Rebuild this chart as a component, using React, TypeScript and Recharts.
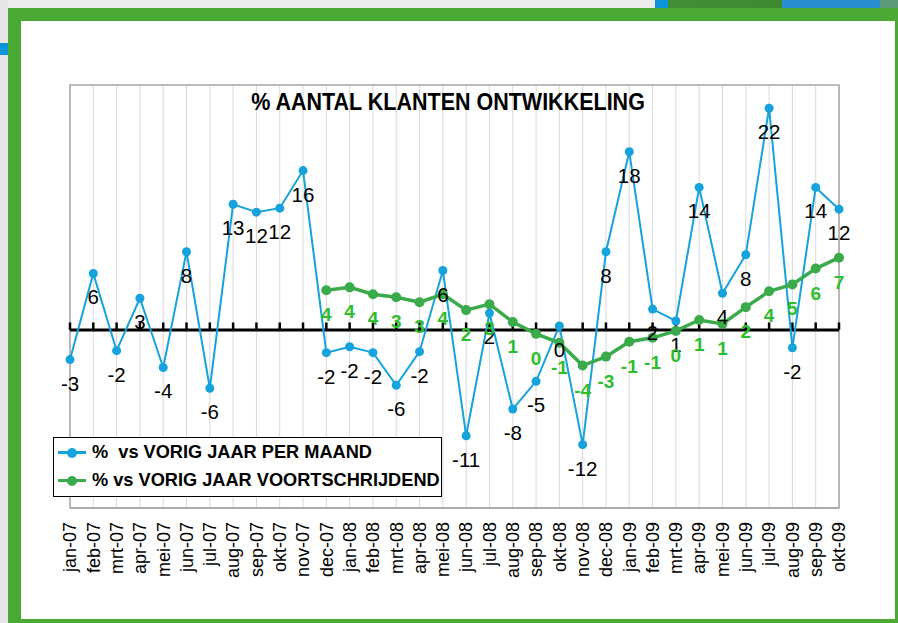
import React from 'react';
import {
    LineChart,
    Line,
    XAxis,
    YAxis,
    CartesianGrid,
    ReferenceLine,
    ReferenceArea,
    LabelList
} from 'recharts';

// months on the category axis
const MONTHS = [
    'jan-07', 'feb-07', 'mrt-07', 'apr-07', 'mei-07', 'jun-07', 'jul-07', 'aug-07', 'sep-07', 'okt-07', 'nov-07', 'dec-07',
    'jan-08', 'feb-08', 'mrt-08', 'apr-08', 'mei-08', 'jun-08', 'jul-08', 'aug-08', 'sep-08', 'okt-08', 'nov-08', 'dec-08',
    'jan-09', 'feb-09', 'mrt-09', 'apr-09', 'mei-09', 'jun-09', 'jul-09', 'aug-09', 'sep-09', 'okt-09',
];

// % vs vorig jaar per maand
const PER_MAAND = [
    -3.0, 5.7, -2.1, 3.2, -3.8, 7.9, -5.9, 12.7, 11.9, 12.3, 16.1, -2.3,
    -1.7, -2.3, -5.6, -2.2, 6.0, -10.7, 1.7, -8.0, -5.2, 0.4, -11.6, 7.9,
    18.0, 2.1, 0.9, 14.4, 3.7, 7.6, 22.4, -1.8, 14.4, 12.2,
];

// % vs vorig jaar voortschrijdend (starts dec-07)
const VOORTSCHRIJDEND = [
    null, null, null, null, null, null, null, null, null, null, null, 4.0,
    4.3, 3.6, 3.3, 2.8, 3.6, 2.0, 2.6, 0.8, -0.4, -1.3, -3.6, -2.7,
    -1.2, -0.8, -0.1, 1.0, 0.6, 2.3, 3.9, 4.6, 6.2, 7.3,
];

const Y_DOMAIN = [-18, 24.75];

const BLUE = '#16a2dc';
const GREEN = '#3aaa4a';
const GREEN_LABEL = '#2ebd2e';
const FRAME = '#4aaa34';
const FONT = '"Liberation Sans", Arial, sans-serif';

const data = MONTHS.map((m, i) => ({
    month: m,
    maand: PER_MAAND[i],
    voort: VOORTSCHRIJDEND[i],
}));

const XTick = ({ x, y, payload }: any) => (
    <text
        transform={`translate(${x},${y + 14}) rotate(-90)`}
        textAnchor="end"
        dy="0.35em"
        fontSize={18}
        fontFamily={FONT}
        fill="#000"
    >
        {payload.value}
    </text>
);

const makeLabel = (color: string, bold: boolean) => (props: any) => {
    const { x, y, value } = props;
    if (value === null || value === undefined) return null;
    const v = Math.round(value);
    return (
        <text
            x={x}
            y={y + 31}
            textAnchor="middle"
            fontSize={bold ? 19 : 20.5}
            fontWeight={bold ? 'bold' : 'normal'}
            fontFamily={FONT}
            fill={color}
        >
            {v === 0 ? '0' : String(v)}
        </text>
    );
};

const LegendRow = ({ color, label, top }: { color: string; label: string; top: number }) => (
    <div style={{ position: 'absolute', left: 0, top, height: 26, display: 'flex', alignItems: 'center' }}>
        <div style={{ position: 'relative', width: 28, marginLeft: 4, height: 26 }}>
            <div style={{ position: 'absolute', left: 0, top: 12, width: 28, height: 2.5, background: color }} />
            <div style={{ position: 'absolute', left: 9, top: 8.5, width: 10, height: 10, borderRadius: 5, background: color }} />
        </div>
        <span style={{ marginLeft: 6, fontFamily: FONT, fontWeight: 'bold', fontSize: 18.2, whiteSpace: 'pre', color: '#000' }}>
            {label}
        </span>
    </div>
);

export default function App() {
    return (
        <div style={{ position: 'absolute', left: 0, top: 0, width: 898, height: 623, background: '#fff', overflow: 'hidden' }}>
            {/* page decoration behind the frame */}
            <div style={{ position: 'absolute', left: 0, top: 0, width: 898, height: 8, background: '#ececec' }} />
            <div style={{ position: 'absolute', left: 655, top: 0, width: 13, height: 8, background: '#0a95d8' }} />
            <div style={{ position: 'absolute', left: 668, top: 0, width: 114, height: 8, background: 'linear-gradient(90deg,#3f8f36,#3e8a30)' }} />
            <div style={{ position: 'absolute', left: 782, top: 0, width: 98, height: 8, background: '#2a8fd0' }} />
            <div style={{ position: 'absolute', left: 880, top: 0, width: 18, height: 8, background: '#5d9a7a' }} />
            <div style={{ position: 'absolute', left: 0, top: 0, width: 8, height: 623, background: '#e6e6e6' }} />
            <div style={{ position: 'absolute', left: 0, top: 43, width: 8, height: 12, background: '#0a95d8' }} />
            {/* green frame */}
            <div style={{ position: 'absolute', left: 8, top: 8, width: 890, height: 615, background: FRAME }} />
            <div style={{ position: 'absolute', left: 21, top: 21, width: 874, height: 598, background: '#fff' }} />

            <div style={{ position: 'absolute', left: 0, top: 0 }}>
                <LineChart
                    width={898}
                    height={623}
                    data={data}
                    margin={{ top: 85, right: 59, bottom: 55, left: 70 }}
                >
                    <CartesianGrid horizontal={false} vertical={true} stroke="#d9d9d9" strokeWidth={1} />
                    <XAxis
                        dataKey="month"
                        interval={0}
                        height={60}
                        tickSize={0}
                        tickMargin={0}
                        tickLine={false}
                        axisLine={{ stroke: '#a6a6a6', strokeWidth: 1.5 }}
                        tick={<XTick />}
                    />
                    <YAxis hide domain={Y_DOMAIN} type="number" allowDataOverflow />
                    <ReferenceArea
                        x1={MONTHS[0]}
                        x2={MONTHS[MONTHS.length - 1]}
                        y1={Y_DOMAIN[0]}
                        y2={Y_DOMAIN[1]}
                        fill="none"
                        stroke="#a6a6a6"
                        strokeWidth={1.5}
                    />
                    <ReferenceLine y={0} stroke="#000" strokeWidth={3} />
                    {MONTHS.map((m) => (
                        <ReferenceLine
                            key={m}
                            segment={[{ x: m, y: 0 }, { x: m, y: 0.75 }]}
                            stroke="#000"
                            strokeWidth={2.5}
                        />
                    ))}
                    <Line
                        type="linear"
                        dataKey="maand"
                        stroke={BLUE}
                        strokeWidth={2}
                        dot={{ r: 4.5, fill: BLUE, stroke: BLUE, strokeWidth: 0 }}
                        activeDot={false}
                        isAnimationActive={false}
                    >
                        <LabelList dataKey="maand" content={makeLabel('#000', false)} />
                    </Line>
                    <Line
                        type="linear"
                        dataKey="voort"
                        stroke={GREEN}
                        strokeWidth={3.5}
                        dot={{ r: 5, fill: GREEN, stroke: GREEN, strokeWidth: 0 }}
                        activeDot={false}
                        isAnimationActive={false}
                    >
                        <LabelList dataKey="voort" content={makeLabel(GREEN_LABEL, true)} />
                    </Line>
                </LineChart>
            </div>

            {/* title */}
            <div
                style={{
                    position: 'absolute',
                    left: 248,
                    width: 400,
                    top: 90,
                    textAlign: 'center',
                    fontFamily: FONT,
                    fontWeight: 'bold',
                    fontSize: 21.5,
                    color: '#000',
                    whiteSpace: 'nowrap',
                    transform: 'scaleY(1.08)',
                }}
            >
                % AANTAL KLANTEN ONTWIKKELING
            </div>

            {/* legend */}
            <div
                style={{
                    position: 'absolute',
                    left: 53,
                    top: 437,
                    width: 387,
                    height: 58,
                    border: '1.5px solid #000',
                    background: '#fff',
                }}
            >
                <LegendRow color={BLUE} label="%  vs VORIG JAAR PER MAAND" top={1} />
                <LegendRow color={GREEN} label="% vs VORIG JAAR VOORTSCHRIJDEND" top={29} />
            </div>
        </div>
    );
}
